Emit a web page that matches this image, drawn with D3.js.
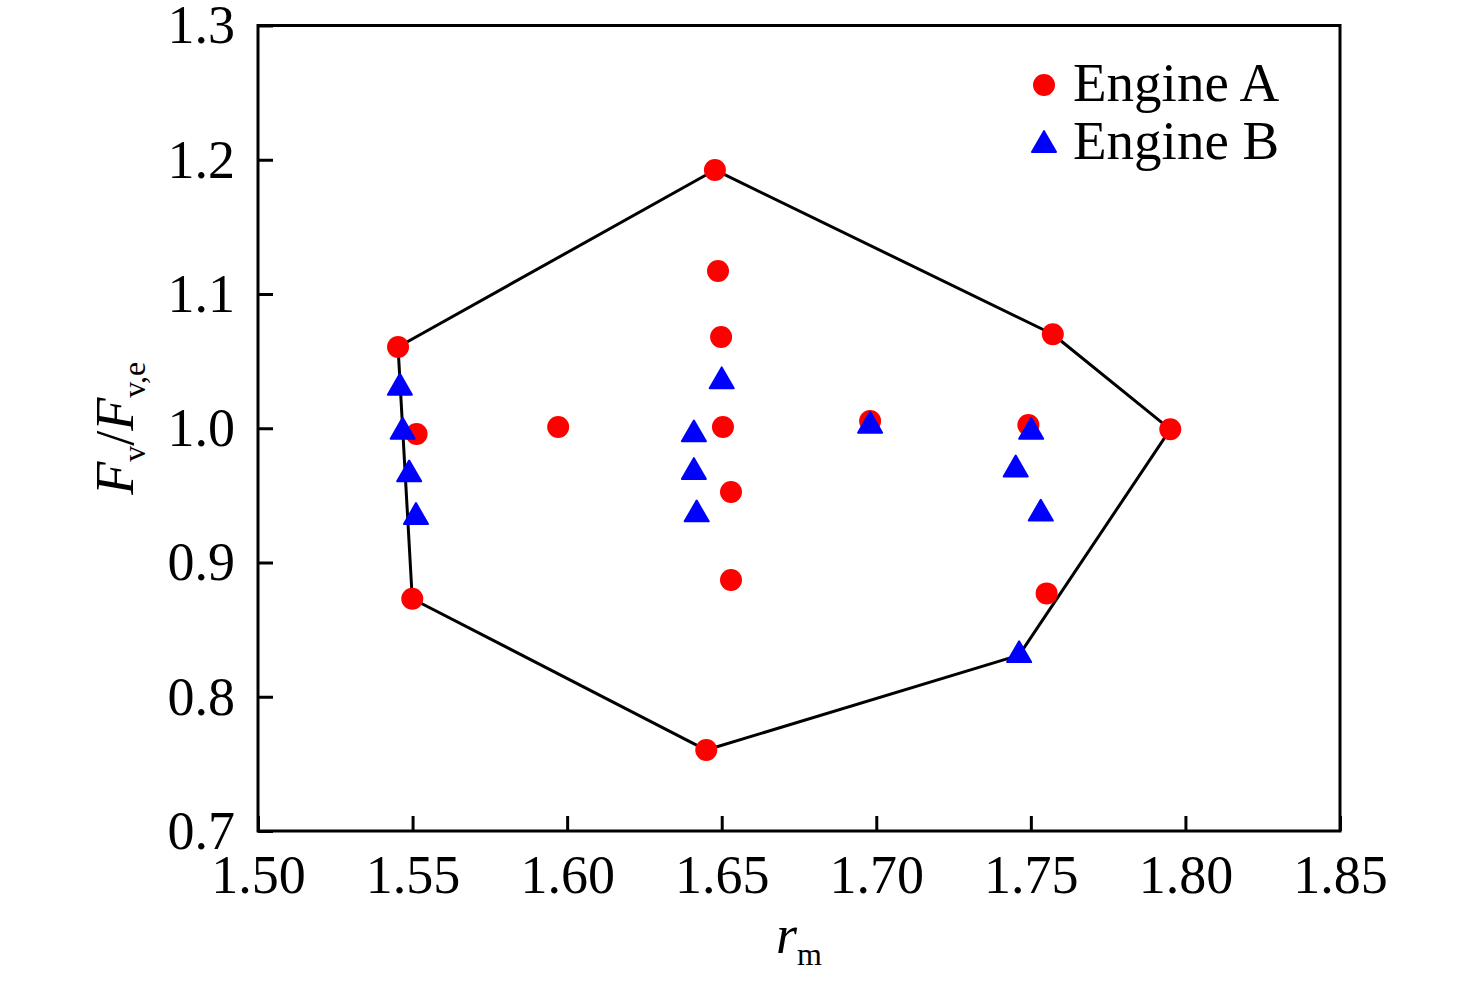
<!DOCTYPE html>
<html>
<head>
<meta charset="utf-8">
<script src="https://cdn.jsdelivr.net/npm/d3@7"></script>
<style>
  body { margin: 0; background: #fff; }
  svg text { font-family: "Liberation Serif", "Times New Roman", serif; fill: #000; }
</style>
</head>
<body>
<div id="chart"></div>
<script>
// Engine A (red circles)
let engineA_rm = [1.6478, 1.6488, 1.6498, 1.6504, 1.6530, 1.6530, 1.5453, 1.5513, 1.5499, 1.5971, 1.6450, 1.6980, 1.7492, 1.7571, 1.7951, 1.7551];
let engineA_F  = [1.1924, 1.1171, 1.0680, 1.0009, 0.9525, 0.8870, 1.0605, 0.9957, 0.8730, 1.0009, 0.7603, 1.0054, 1.0024, 1.0700, 0.9992, 0.8770];
// Engine B (blue triangles)
let engineB_rm = [1.6500, 1.6410, 1.6410, 1.6419, 1.6980, 1.5459, 1.5468, 1.5489, 1.5511, 1.7501, 1.7451, 1.7532, 1.7462];
let engineB_F  = [1.0350, 0.9954, 0.9674, 0.9358, 1.0019, 1.0302, 0.9974, 0.9656, 0.9339, 0.9973, 0.9693, 0.9364, 0.8310];
// outline polygon through the outer points
let hull_rm = [1.5453, 1.6478, 1.7571, 1.7951, 1.7462, 1.6450, 1.5499, 1.5453];
let hull_F  = [1.0605, 1.1924, 1.0700, 0.9992, 0.8310, 0.7603, 0.8730, 1.0605];
// ticks
let xTicks = [1.50, 1.55, 1.60, 1.65, 1.70, 1.75, 1.80, 1.85];
let yTicks = [0.7, 0.8, 0.9, 1.0, 1.1, 1.2, 1.3];
let legendLabels = ["Engine A", "Engine B"];

let W = 1476, H = 983;
let svg = d3.select("#chart").append("svg").attr("width", W).attr("height", H);

let x = d3.scaleLinear().domain([1.50, 1.85]).range([258, 1340]);
let y = d3.scaleLinear().domain([0.7, 1.3]).range([831, 25.5]);

let fontSize = 54;

// x axis, ticks pointing in
let xAxis = d3.axisBottom(x).tickValues(xTicks).tickFormat(d3.format(".2f"))
    .tickSizeInner(-15).tickSizeOuter(0).tickPadding(24);
let gx = svg.append("g").attr("transform", "translate(0," + y(0.7) + ")").call(xAxis);
gx.select(".domain").remove();
gx.selectAll(".tick line").attr("stroke", "#000").attr("stroke-width", 3);
gx.selectAll(".tick text").attr("font-size", fontSize).style("font-family", "Liberation Serif");

let yAxis = d3.axisLeft(y).tickValues(yTicks).tickFormat(d3.format(".1f"))
    .tickSizeInner(-15).tickSizeOuter(0).tickPadding(23);
let gy = svg.append("g").attr("transform", "translate(" + x(1.50) + ",0)").call(yAxis);
gy.select(".domain").remove();
gy.selectAll(".tick line").attr("stroke", "#000").attr("stroke-width", 3);
gy.selectAll(".tick text").attr("font-size", fontSize).style("font-family", "Liberation Serif");

// frame
svg.append("rect")
    .attr("x", x(1.50)).attr("y", y(1.3))
    .attr("width", x(1.85) - x(1.50)).attr("height", y(0.7) - y(1.3))
    .attr("fill", "none").attr("stroke", "#000").attr("stroke-width", 3);

// outline
let hull = hull_rm.map((d, i) => [d, hull_F[i]]);
svg.append("path")
    .attr("d", d3.line().x(d => x(d[0])).y(d => y(d[1]))(hull))
    .attr("fill", "none").attr("stroke", "#000").attr("stroke-width", 3)
    .attr("stroke-linejoin", "round");

// Engine A points
let dataA = engineA_rm.map((d, i) => ({rm: d, F: engineA_F[i]}));
svg.selectAll(".ptA").data(dataA).enter().append("circle")
    .attr("class", "ptA")
    .attr("cx", d => x(d.rm)).attr("cy", d => y(d.F)).attr("r", 11)
    .attr("fill", "#ff0000");

// Engine B points
let tri = d3.symbol().type(d3.symbolTriangle).size(250);
let dataB = engineB_rm.map((d, i) => ({rm: d, F: engineB_F[i]}));
svg.selectAll(".ptB").data(dataB).enter().append("path")
    .attr("class", "ptB")
    .attr("d", tri)
    .attr("transform", d => "translate(" + x(d.rm) + "," + y(d.F) + ")")
    .attr("fill", "#0000ff").attr("stroke", "#0000ff").attr("stroke-width", 2)
    .attr("stroke-linejoin", "round");

// legend
let lg = svg.append("g");
lg.append("circle").attr("cx", 1044).attr("cy", 85).attr("r", 11).attr("fill", "#ff0000");
lg.append("path").attr("d", tri).attr("transform", "translate(1044,145)")
    .attr("fill", "#0000ff").attr("stroke", "#0000ff").attr("stroke-width", 2).attr("stroke-linejoin", "round");
lg.selectAll(".lgtext").data(legendLabels).enter().append("text")
    .attr("x", 1073).attr("y", (d, i) => 101 + i * 58)
    .attr("font-size", 55).text(d => d);

// x axis title
let xt = svg.append("text").attr("x", (x(1.50) + x(1.85)) / 2).attr("y", 953)
    .attr("text-anchor", "middle").attr("font-size", fontSize);
xt.append("tspan").attr("font-style", "italic").text("r");
xt.append("tspan").attr("font-size", 32).attr("dy", 12).text("m");

// y axis title
let yt = svg.append("text")
    .attr("transform", "translate(133," + (y(0.7) + y(1.3)) / 2 + ") rotate(-90)")
    .attr("text-anchor", "middle").attr("font-size", fontSize);
yt.append("tspan").attr("font-style", "italic").text("F");
yt.append("tspan").attr("font-size", 32).attr("dy", 12).text("v");
yt.append("tspan").attr("dy", -12).text("/");
yt.append("tspan").attr("font-style", "italic").text("F");
yt.append("tspan").attr("font-size", 32).attr("dy", 12).text("v,e");
</script>
</body>
</html>
